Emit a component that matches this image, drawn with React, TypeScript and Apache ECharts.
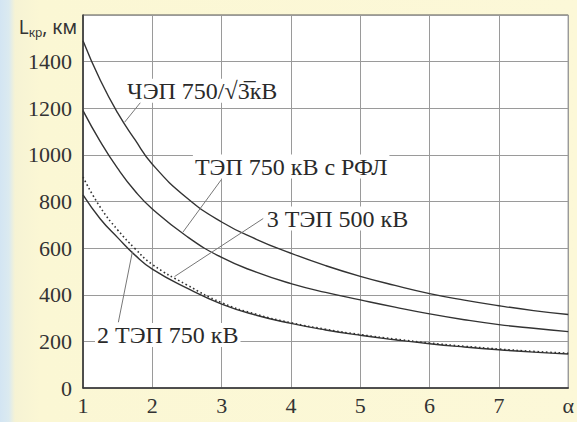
import React, { useEffect, useRef } from "react";
import * as echarts from "echarts";

// α values (x axis)
const alpha = [1, 1.25, 1.5, 1.75, 2, 2.5, 3, 3.5, 4, 4.5, 5, 5.5, 6, 6.5, 7, 7.5, 8];
// L_kr, km
const chep = [1490, 1320, 1180, 1065, 960, 815, 712, 638, 578, 525, 479, 440, 405, 377, 353, 332, 315];
const rfl = [1190, 1057, 942, 845, 768, 650, 560, 497, 448, 410, 378, 347, 318, 293, 272, 256, 242];
const tep3 = [905, 775, 678, 598, 530, 442, 366, 316, 280, 252, 229, 210, 193, 179, 167, 157, 149];
const tep2 = [828, 725, 645, 570, 510, 428, 360, 312, 277, 249, 226, 207, 190, 176, 164, 154, 146];

const xTicks = ["1", "2", "3", "4", "5", "6", "7", "α"];
const yTicks = ["0", "200", "400", "600", "800", "1000", "1200", "1400", ""];

const names = ["ЧЭП 750/√3\u0305кВ", "ТЭП 750 кВ с РФЛ", "3 ТЭП 500 кВ", "2 ТЭП 750 кВ"];
// label anchor (left-middle) and leader lines in data coordinates
const labelAt: [number, number][] = [[1.6, 1275], [2.578, 950], [3.615, 727], [1.166, 227]];
const leaders: [number, number][][] = [
  [[1.6, 1140], [1.86, 1236]],
  [[2.996, 894], [2.44, 668]],
  [[3.6, 727], [2.32, 478]],
  [[1.51, 282], [1.713, 585]],
];

const SERIF = "Liberation Serif";
const SANS = "Noto Sans";

export default function App() {
  const ref = useRef<HTMLDivElement>(null);
  useEffect(() => {
    const chart = echarts.init(ref.current!, undefined, { renderer: "svg" });
    const seriesData = [chep, rfl, tep3, tep2];
    const series = seriesData.map((vals, i) => ({
      type: "line",
      name: names[i],
      data: alpha.map((a, j) => [a, vals[j]]),
      showSymbol: false,
      smooth: 0.5,
      silent: true,
      lineStyle: {
        color: "#333",
        width: i === 2 ? 1.6 : 1.4,
        type: i === 2 ? [1.6, 2.6] : "solid",
      },
      z: 3,
      markLine: {
        silent: true,
        symbol: ["none", "none"],
        label: { show: false },
        lineStyle: { color: "#777", width: 1, type: "solid" },
        data: [[{ coord: leaders[i][0] }, { coord: leaders[i][1] }]],
        z: 4,
      },
      markPoint: {
        silent: true,
        symbol: "circle",
        symbolSize: 1,
        itemStyle: { color: "rgba(0,0,0,0)" },
        label: {
          show: true,
          position: "right",
          distance: 0,
          formatter: () => names[i],
          color: "#2a2a2a",
          fontFamily: SERIF,
          fontSize: 24,
          backgroundColor: "#fff",
          padding: [0, 2],
        },
        data: [{ coord: labelAt[i] }],
        z: 5,
      },
    }));

    chart.setOption({
      animation: false,
      textStyle: { fontFamily: SERIF },
      grid: {
        left: 83,
        right: 8,
        top: 15,
        bottom: 34,
        show: true,
        backgroundColor: "#fff",
        borderColor: "#555",
        borderWidth: 1,
      },
      xAxis: {
        type: "value",
        min: 1,
        max: 8,
        interval: 1,
        axisLine: { show: true, lineStyle: { color: "#333", width: 1.5 } },
        axisTick: { show: false },
        splitLine: { show: true, lineStyle: { color: "#9a9a9a", width: 1 } },
        axisLabel: {
          formatter: (v: number) => xTicks[Math.round(v) - 1] ?? "",
          color: "#333",
          fontFamily: SERIF,
          fontSize: 22,
          margin: 6,
        },
      },
      yAxis: {
        type: "value",
        min: 0,
        max: 1600,
        interval: 200,
        name: "{a|L}{b|кр}{a|, км}",
        nameLocation: "end",
        nameGap: -12,
        nameTextStyle: {
          align: "right",
          verticalAlign: "middle",
          padding: [0, 6, 0, 0],
          rich: {
            a: { fontFamily: SANS, fontSize: 19, color: "#333" },
            b: { fontFamily: SANS, fontSize: 12, color: "#333", padding: [10, 0, 0, 0] },
          },
        },
        axisLine: { show: true, lineStyle: { color: "#333", width: 1.5 } },
        axisTick: { show: false },
        splitLine: { show: true, lineStyle: { color: "#9a9a9a", width: 1 } },
        axisLabel: {
          formatter: (v: number) => yTicks[Math.round(v / 200)] ?? "",
          color: "#333",
          fontFamily: SERIF,
          fontSize: 22,
          margin: 11,
        },
      },
      series,
    });
    return () => chart.dispose();
  }, []);
  return (
    <div
      ref={ref}
      style={{
        position: "fixed",
        left: 0,
        top: 0,
        width: 577,
        height: 422,
        background:
          "linear-gradient(to right, #d3e5f3 0px, #dbeaf0 9px, #f6f3d4 15px, #fbf7d4 40px, #fcf8d8 100%)",
      }}
    />
  );
}
